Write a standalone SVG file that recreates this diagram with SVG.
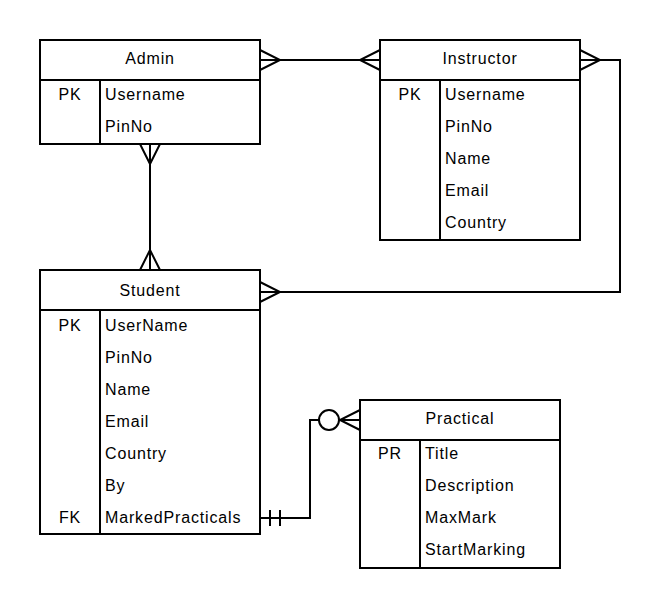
<svg xmlns="http://www.w3.org/2000/svg" width="661" height="608" viewBox="0 0 661 608">
<style>
.box{fill:#fff;stroke:#000;stroke-width:2}
.ln{fill:none;stroke:#000;stroke-width:2}
text{font-family:"Liberation Sans",Arial,sans-serif;font-size:16px;letter-spacing:0.85px;fill:#000}
.t{text-anchor:middle}
</style>
<rect width="661" height="608" fill="#fff"/>
<g id="connectors">
  <!-- Admin - Instructor -->
  <path class="ln" d="M260 60H380"/>
  <path class="ln" d="M260 50L280 60L260 70"/>
  <path class="ln" d="M380 50L360 60L380 70"/>
  <!-- Admin - Student -->
  <path class="ln" d="M150 144V270"/>
  <path class="ln" d="M140 144L150 164L160 144"/>
  <path class="ln" d="M140 270L150 250L160 270"/>
  <!-- Instructor - Student -->
  <path class="ln" d="M580 60H620V292H260"/>
  <path class="ln" d="M580 50L600 60L580 70"/>
  <path class="ln" d="M260 282L280 292L260 302"/>
  <!-- Student - Practical -->
  <path class="ln" d="M260 518H310V420H319"/>
  <path class="ln" d="M270 510V526M280 510V526"/>
  <circle class="ln" cx="329" cy="420" r="10"/>
  <path class="ln" d="M339 420H360M360 410L340 420L360 430"/>
</g>
<g id="admin">
  <rect class="box" x="40" y="40" width="220" height="104"/>
  <path class="ln" d="M40 80H260M100 80V144"/>
  <text class="t" x="150" y="64">Admin</text>
  <text class="t" x="70" y="100">PK</text>
  <text x="105" y="100">Username</text>
  <text x="105" y="132">PinNo</text>
</g>
<g id="instructor">
  <rect class="box" x="380" y="40" width="200" height="200"/>
  <path class="ln" d="M380 80H580M440 80V240"/>
  <text class="t" x="480" y="64">Instructor</text>
  <text class="t" x="410" y="100">PK</text>
  <text x="445" y="100">Username</text>
  <text x="445" y="132">PinNo</text>
  <text x="445" y="164">Name</text>
  <text x="445" y="196">Email</text>
  <text x="445" y="228">Country</text>
</g>
<g id="student">
  <rect class="box" x="40" y="270" width="220" height="264"/>
  <path class="ln" d="M40 310H260M100 310V534"/>
  <text class="t" x="150" y="296">Student</text>
  <text class="t" x="70" y="331">PK</text>
  <text x="105" y="331">UserName</text>
  <text x="105" y="363">PinNo</text>
  <text x="105" y="395">Name</text>
  <text x="105" y="427">Email</text>
  <text x="105" y="459">Country</text>
  <text x="105" y="491">By</text>
  <text class="t" x="70" y="523">FK</text>
  <text x="105" y="523">MarkedPracticals</text>
</g>
<g id="practical">
  <rect class="box" x="360" y="400" width="200" height="168"/>
  <path class="ln" d="M360 440H560M420 440V568"/>
  <text class="t" x="460" y="424">Practical</text>
  <text class="t" x="390" y="459">PR</text>
  <text x="425" y="459">Title</text>
  <text x="425" y="491">Description</text>
  <text x="425" y="523">MaxMark</text>
  <text x="425" y="555">StartMarking</text>
</g>
</svg>
